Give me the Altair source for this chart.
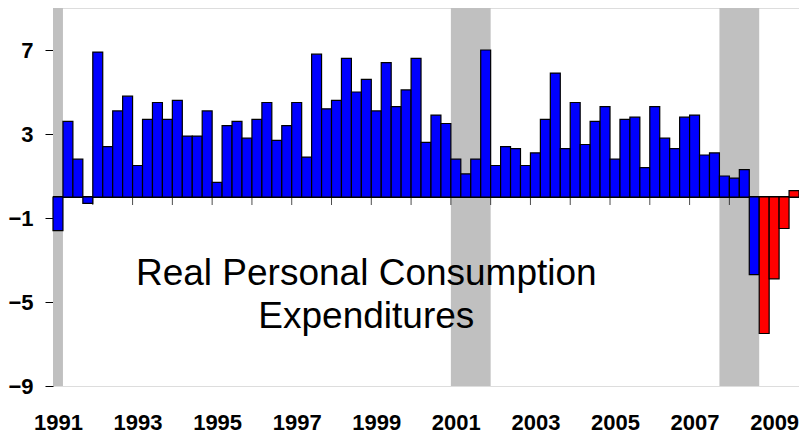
import altair as alt
import pandas as pd

# ---------------- data ----------------
first_year = 1991
pce_growth = [
    -1.6, 3.6, 1.8, -0.3,    # 1991
    6.9, 2.4, 4.1, 4.8,      # 1992
    1.5, 3.7, 4.5, 3.7,      # 1993
    4.6, 2.9, 2.9, 4.1,      # 1994
    0.7, 3.4, 3.6, 2.8,      # 1995
    3.7, 4.5, 2.7, 3.4,      # 1996
    4.5, 1.9, 6.8, 4.2,      # 1997
    4.6, 6.6, 5.0, 5.6,      # 1998
    4.1, 6.4, 4.3, 5.1,      # 1999
    6.6, 2.6, 3.9, 3.5,      # 2000
    1.8, 1.1, 1.8, 7.0,      # 2001
    1.5, 2.4, 2.3, 1.5,      # 2002
    2.1, 3.7, 5.9, 2.3,      # 2003
    4.5, 2.5, 3.6, 4.3,      # 2004
    1.8, 3.7, 3.8, 1.4,      # 2005
    4.3, 2.8, 2.3, 3.8,      # 2006
    3.9, 2.0, 2.1, 1.0,      # 2007
    0.9, 1.3, -3.7, -6.5,    # 2008
    -3.9, -1.5, 0.3,         # 2009
]
red_quarters = ["2008Q4", "2009Q1", "2009Q2", "2009Q3"]

recession_start = ["1991Q1", "2001Q1", "2007Q4"]
recession_end = ["1991Q1", "2001Q4", "2008Q3"]

x_label_years = ["1991", "1993", "1995", "1997", "1999", "2001", "2003",
                 "2005", "2007", "2009"]
y_tick_values = [-9, -5, -1, 3, 7]
y_domain = [-9, 9]

annotation_lines = ["Real Personal Consumption", "Expenditures"]
annotation_pos = {"q": 31.5, "value": -4.2}


# ---------------- helpers ----------------
def q_index(label):
    year, q = label.split("Q")
    return (int(year) - first_year) * 4 + int(q) - 1


quarter_labels = [f"{first_year + i // 4}Q{i % 4 + 1}" for i in range(len(pce_growth))]
n_q = len(pce_growth)

bars = pd.DataFrame({
    "quarter": quarter_labels,
    "x0": list(range(n_q)),
    "x1": [i + 1 for i in range(n_q)],
    "value": pce_growth,
    "kind": ["red" if q in red_quarters else "blue" for q in quarter_labels],
})

bands = pd.DataFrame({
    "x0": [q_index(s) for s in recession_start],
    "x1": [q_index(e) + 1 for e in recession_end],
})

year_ticks = pd.DataFrame({"x": [4 * i for i in range(1, n_q // 4 + 1)]})

label_positions = [(int(y) - first_year) * 4 + 0.5 for y in x_label_years]
label_expr = ("[" + ",".join(f"'{y}'" for y in x_label_years) + "]"
              "[indexof([" + ",".join(str(p) for p in label_positions) + "], datum.value)]")

annot = pd.DataFrame({"x": [annotation_pos["q"]], "y": [annotation_pos["value"]],
                      "text": [annotation_lines]})

W, H = 746, 378
FONT = "Liberation Sans"

x_scale = alt.Scale(domain=[0, n_q], nice=False, zero=False)
y_scale = alt.Scale(domain=y_domain, nice=False)

x_axis = alt.Axis(
    values=label_positions, labelExpr=label_expr, title=None, domain=False,
    ticks=False, tickSize=0, grid=False, labelPadding=26, labelFont=FONT,
    labelFontSize=22, labelFontWeight="bold", labelColor="black",
    labelAngle=0, labelFlush=False, labelOverlap=False,
)
y_axis = alt.Axis(
    values=y_tick_values, title=None, grid=False, tickSize=8, tickColor="black",
    domainColor="#777777", labelPadding=12, labelFont=FONT, labelFontSize=22,
    labelFontWeight="bold", labelColor="black",
)

band_layer = alt.Chart(bands).mark_rect(color="#C0C0C0").encode(
    x=alt.X("x0:Q", scale=x_scale, axis=x_axis),
    x2="x1:Q",
    y=alt.value(0),
    y2=alt.value(H),
)

zero_layer = alt.Chart(bars).mark_rule(color="black", strokeWidth=1).encode(
    y=alt.datum(0),
)

tick_layer = alt.Chart(year_ticks).mark_tick(
    orient="vertical", size=8, thickness=1, color="black", yOffset=4
).encode(
    x=alt.X("x:Q", scale=x_scale, axis=x_axis),
    y=alt.Y("zero:Q", scale=y_scale, axis=y_axis),
).transform_calculate(zero="0")

bar_layer = alt.Chart(bars).mark_bar(stroke="black", strokeWidth=1.2).encode(
    x=alt.X("x0:Q", scale=x_scale, axis=x_axis),
    x2="x1:Q",
    y=alt.Y("value:Q", scale=y_scale, axis=y_axis),
    y2=alt.datum(0),
    color=alt.Color("kind:N", scale=alt.Scale(domain=["blue", "red"],
                                              range=["#0000FF", "#FF0000"]),
                    legend=None),
)

text_layer = alt.Chart(annot).mark_text(
    font=FONT, fontSize=37, align="center", baseline="alphabetic",
    lineHeight=43, color="black",
).encode(
    x=alt.X("x:Q", scale=x_scale, axis=x_axis),
    y=alt.Y("y:Q", scale=y_scale, axis=y_axis),
    text="text",
)

chart = alt.layer(band_layer, zero_layer, tick_layer, bar_layer, text_layer).properties(
    width=W, height=H,
    padding={"left": 45, "top": 0, "right": 0, "bottom": 48},
    autosize=alt.AutoSizeParams(type="none"),
).configure_view(stroke=None).configure(background="white")

chart.save("out.html", embed_options={"renderer": "svg", "actions": False})
